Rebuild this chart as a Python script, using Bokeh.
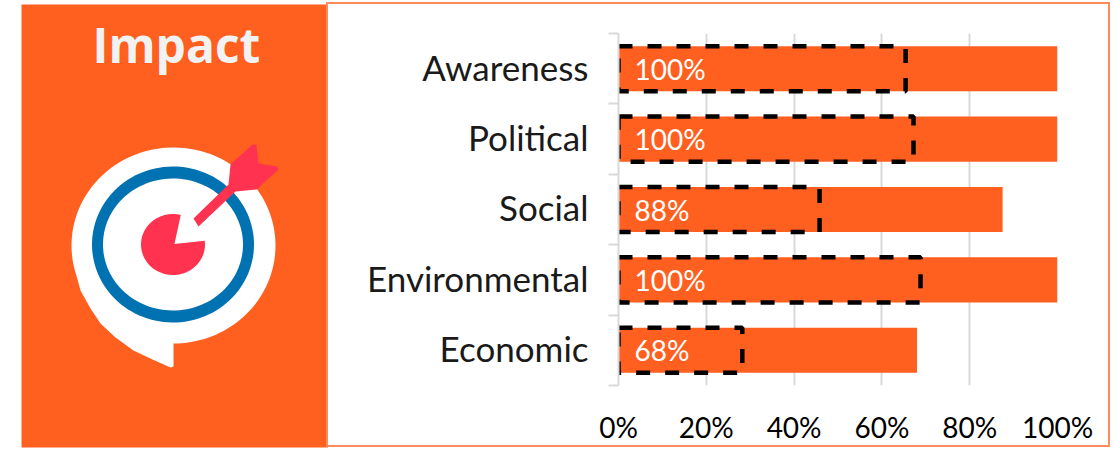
import numpy as np
from bokeh.plotting import figure
from bokeh.layouts import row
from bokeh.models import Range1d, FixedTicker, NumeralTickFormatter, ColumnDataSource
from bokeh.core.properties import value
from bokeh.embed import file_html
from bokeh.resources import INLINE

categories = ["Awareness", "Political", "Social", "Environmental", "Economic"]
impact = [1.00, 1.00, 0.875, 1.00, 0.68]
outlined = [0.654, 0.672, 0.458, 0.688, 0.282]
bar_labels = ["100%", "100%", "88%", "100%", "68%"]
x_ticks = [0, 0.2, 0.4, 0.6, 0.8, 1.0]

ORANGE = "#FF5F1F"
BLUE = "#0071B1"
RED = "#FF3350"
GREY = "#D9D9D9"

ypos = [4.5, 3.5, 2.5, 1.5, 0.5]
label_pos = [y + 0.03 for y in ypos]
src = ColumnDataSource(dict(y=ypos, v=impact, o=outlined, t=bar_labels, z=[0.0] * 5))

# ---------- chart (right) ----------
p = figure(width=788, height=449, output_backend="svg", toolbar_location=None,
           x_range=Range1d(0, 1), y_range=Range1d(0, 5),
           min_border_left=294, min_border_right=55, min_border_top=33, min_border_bottom=64,
           background_fill_color=None, border_fill_color=None, outline_line_color=None,
           styles={"outline": "2px solid #FF8A5C", "outline-offset": "-4px", "margin-left": "-4px"})
p.frame_align = False

p.hbar(y="y", left="z", right="v", height=0.64, source=src, fill_color=ORANGE, line_color=None)
p.hbar(y="y", left="z", right="o", height=0.64, source=src, fill_color=None,
       line_color="black", line_width=4.5, line_dash="14 15")
p.text(x="z", y="y", text="t", source=src, x_offset=16, text_baseline="middle", text_align="left",
       text_color="white", text_font=value("Lato"), text_font_size="28px")

xa = p.xaxis[0]
xa.ticker = FixedTicker(ticks=x_ticks)
xa.formatter = NumeralTickFormatter(format="0%")
xa.axis_line_color = None
xa.major_tick_line_color = None
xa.minor_tick_line_color = None
xa.major_label_standoff = 18
xa.major_label_text_font = "Lato"
xa.major_label_text_font_size = "28px"
xa.major_label_text_color = "black"

ya = p.yaxis[0]
ya.ticker = FixedTicker(ticks=label_pos, minor_ticks=[0, 1, 2, 3, 4, 5])
ya.major_label_overrides = {y: c for y, c in zip(label_pos, categories)}
ya.axis_line_color = GREY
ya.axis_line_width = 2
ya.major_tick_line_color = None
ya.major_tick_in = 0
ya.major_tick_out = 0
ya.minor_tick_line_color = GREY
ya.minor_tick_line_width = 2
ya.minor_tick_in = 0
ya.minor_tick_out = 10
ya.major_label_standoff = 20
ya.major_label_text_font = "Lato"
ya.major_label_text_font_size = "35px"
ya.major_label_text_color = "#1a1a1a"

p.xgrid.ticker = FixedTicker(ticks=x_ticks)
p.xgrid.grid_line_color = GREY
p.xgrid.grid_line_width = 2
p.ygrid.grid_line_color = None

# ---------- panel with title and icon (left) ----------
q = figure(width=328, height=449, output_backend="svg", toolbar_location=None,
           x_range=Range1d(0, 328), y_range=Range1d(449, 0),
           x_axis_location=None, y_axis_location=None,
           min_border=0, outline_line_color=None, background_fill_color="white", border_fill_color="white")
q.frame_align = False
q.grid.visible = False


def poly(pts, color):
    a = np.array(pts, dtype=float)
    q.patch(list(a[:, 0]), list(a[:, 1]), fill_color=color, line_color=None)


def ellipse(cx, cy, rx, ry, a0=0, a1=360, n=120):
    t = np.radians(np.linspace(a0, a1, n))
    return list(zip(cx + rx * np.cos(t), cy - ry * np.sin(t)))


poly([(21, 4), (328, 4), (328, 447), (21, 447)], ORANGE)

bubble = ellipse(173, 245, 102, 98, -90, 198) + [(80, 290), (90, 308), (100, 323), (115, 337), (133, 350),
                                                  (152, 359), (170, 367), (173, 366), (173, 343)]
poly(bubble, "white")
poly(ellipse(172.5, 244, 81, 78), BLUE)
poly(ellipse(172.5, 244, 70, 66), "white")
poly(ellipse(172.5, 244, 32, 30.5, 76, 367) + [(174, 243.5)], RED)
arrow = [(193, 218), (198, 226), (235, 191), (256, 189), (278, 169), (277, 166), (258, 163),
         (256, 144), (252, 144), (230, 164), (228, 184)]
poly(arrow, RED)

q.text(x=[176], y=[44], text=["Impact"], text_font=value("Open Sans"), text_font_style="bold",
       text_font_size="48px", text_color="#F2F2F2", text_align="center", text_baseline="middle")

open("out.html", "w").write(file_html(row(q, p, spacing=0), INLINE))
